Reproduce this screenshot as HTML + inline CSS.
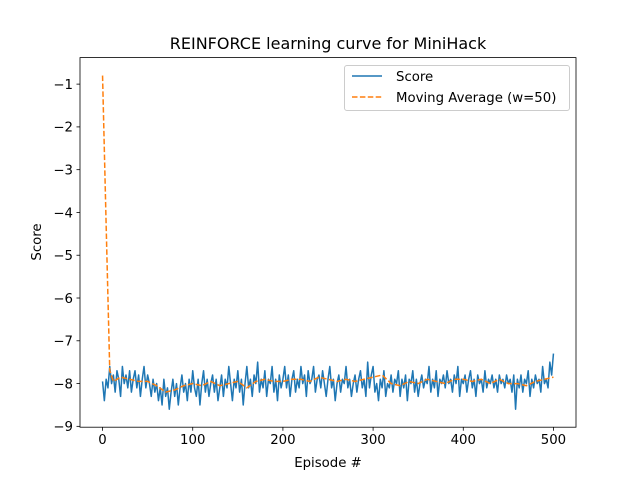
<!DOCTYPE html>
<html><head><meta charset="utf-8"><style>
body{margin:0;background:#fff}
svg{font-family:"DejaVu Sans","Liberation Sans",sans-serif}
</style></head><body>
<svg id="chart" width="640" height="480" viewBox="0 0 640 480">
<rect width="640" height="480" fill="#fff"/>
<g id="plot"></g>
</svg>
<script>
const xTicks=[0,100,200,300,400,500];
const yTicks=[-1,-2,-3,-4,-5,-6,-7,-8,-9];
const scoreStep=2;
const scoreValues=[-7.95,-8.4,-7.9,-8.1,-7.6,-8.0,-7.8,-8.2,-7.7,-7.9,-8.3,-7.6,-8.0,-7.8,-8.1,-7.7,-8.2,-7.9,-7.7,-8.1,
-7.8,-8.3,-7.9,-7.6,-8.1,-7.8,-8.0,-8.3,-7.9,-8.2,-8.0,-8.4,-8.1,-8.5,-7.9,-8.3,-8.1,-8.6,-8.2,-7.9,
-8.3,-8.0,-8.5,-8.1,-7.8,-8.2,-8.0,-8.4,-7.9,-8.2,-7.7,-8.1,-8.3,-7.9,-8.5,-8.0,-7.7,-8.2,-7.9,-8.3,
-8.0,-7.8,-8.2,-7.9,-8.4,-8.1,-7.8,-8.3,-7.9,-8.1,-7.6,-8.0,-8.4,-7.9,-8.1,-7.7,-8.2,-7.9,-8.5,-8.0,
-7.6,-8.1,-7.9,-8.3,-7.8,-8.0,-7.5,-8.2,-7.9,-8.1,-7.7,-8.3,-7.9,-8.0,-7.6,-8.2,-7.9,-8.4,-7.8,-8.1,
-7.9,-7.6,-8.1,-7.8,-8.3,-7.9,-7.7,-8.2,-7.9,-8.1,-7.6,-8.0,-7.8,-8.3,-7.7,-8.0,-7.9,-7.6,-8.2,-7.9,
-7.8,-8.1,-7.7,-8.0,-8.3,-7.9,-7.6,-8.1,-7.9,-8.4,-8.0,-7.8,-8.2,-7.9,-8.0,-7.6,-8.1,-7.9,-8.3,-8.0,
-7.8,-8.2,-7.9,-7.7,-8.1,-7.9,-8.3,-7.5,-8.1,-7.8,-7.6,-8.2,-8.0,-8.4,-7.9,-8.1,-7.7,-8.3,-8.0,-8.1,
-7.8,-8.2,-7.9,-8.0,-7.7,-8.3,-7.9,-8.1,-7.8,-8.4,-7.9,-8.0,-7.7,-8.2,-7.9,-8.3,-8.0,-7.8,-8.1,-7.9,
-8.0,-7.6,-8.2,-7.9,-8.1,-7.7,-8.3,-7.9,-8.0,-7.8,-8.1,-7.7,-8.0,-7.9,-8.2,-7.8,-8.0,-7.6,-8.3,-7.9,
-8.0,-7.8,-8.2,-7.9,-7.7,-8.1,-7.9,-8.3,-7.8,-8.0,-7.9,-8.2,-7.7,-8.1,-7.9,-8.0,-7.8,-8.1,-7.9,-8.2,
-7.8,-8.0,-7.9,-8.1,-7.8,-8.0,-7.9,-8.2,-7.8,-8.6,-7.9,-8.1,-7.8,-8.2,-7.9,-8.0,-7.7,-8.3,-7.9,-8.1,
-7.8,-8.0,-7.9,-8.2,-7.6,-8.0,-7.9,-8.1,-7.5,-7.8,-7.3];
const maEpisodes=[0,4,8,12,20,30,40,50,60,70,80,90,100,110,120,130,140,150,160,170,180,190,200,210,220,230,240,250,260,270,280,290,300,310,320,330,340,350,360,370,380,390,400,410,420,430,440,450,460,470,480,490,500];
const maValues=[-0.8,-4.3,-7.7,-7.95,-7.85,-7.9,-7.95,-7.95,-8.05,-8.2,-8.15,-8.05,-8.0,-8.05,-7.95,-8.05,-8.0,-7.95,-8.1,-7.95,-7.9,-7.95,-7.95,-7.9,-7.9,-7.95,-7.85,-7.9,-7.95,-7.9,-7.95,-7.9,-7.85,-7.8,-8.0,-8.05,-7.95,-8.0,-7.9,-7.95,-8.0,-7.9,-7.9,-7.95,-7.9,-8.0,-7.9,-8.0,-8.0,-8.05,-7.95,-7.9,-7.85];

const L=80,R=576,T=57.6,B=427.2;
const xMin=-25,xMax=525,yMin=-9.02,yMax=-0.38;
const xs=v=>L+(v-xMin)/(xMax-xMin)*(R-L);
const ys=v=>B-(v-yMin)/(yMax-yMin)*(B-T);
const NS="http://www.w3.org/2000/svg";
const g=document.getElementById('plot');
function mk(tag,attrs,parent){const e=document.createElementNS(NS,tag);for(const k in attrs)e.setAttribute(k,attrs[k]);(parent||g).appendChild(e);return e;}

let d=scoreValues.map((v,i)=>(i?'L':'M')+xs(i*scoreStep).toFixed(2)+','+ys(v).toFixed(2)).join('');
const sl=mk('path',{d:d,fill:'none',stroke:'#1f77b4','stroke-width':1.5,'stroke-linejoin':'round'});


d=maValues.map((v,i)=>(i?'L':'M')+xs(maEpisodes[i]).toFixed(2)+','+ys(v).toFixed(2)).join('');
const ml=mk('path',{d:d,fill:'none',stroke:'#ff7f0e','stroke-width':1.5,'stroke-dasharray':'5.5,2.4'});



const fr=mk('rect',{x:L,y:T,width:R-L,height:B-T,fill:'none',stroke:'#000','stroke-width':0.8});



xTicks.forEach(t=>{const x=xs(t);
 const tk=mk('line',{x1:x,x2:x,y1:B,y2:B+3.5,stroke:'#000','stroke-width':0.8});
 
 
 const tx=mk('text',{x:x,y:B+17,'text-anchor':'middle','font-size':'13.3px'});tx.textContent=t;
 
 
});
yTicks.forEach(t=>{const y=ys(t);
 const tk=mk('line',{x1:L-3.5,x2:L,y1:y,y2:y,stroke:'#000','stroke-width':0.8});
 
 
 const tx=mk('text',{x:L-7,y:y+4.8,'text-anchor':'end','font-size':'13.3px'});tx.textContent='\u2212'+Math.abs(t);
 
 
});

const tt=mk('text',{x:328,y:49,'text-anchor':'middle','font-size':'16px'});tt.textContent='REINFORCE learning curve for MiniHack';


const xl=mk('text',{x:328,y:467,'text-anchor':'middle','font-size':'13.3px'});xl.textContent='Episode #';


const yl=mk('text',{x:0,y:0,'text-anchor':'middle','font-size':'13.3px',transform:'translate(41,242) rotate(-90)'});yl.textContent='Score';



const lg=mk('g',{});


mk('rect',{x:344.5,y:65.5,width:225,height:45,rx:2.5,fill:'#fff','fill-opacity':0.8,stroke:'#ccc','stroke-width':1},lg);
const e1=mk('g',{},lg);


mk('line',{x1:352,x2:382,y1:76,y2:76,stroke:'#1f77b4','stroke-width':1.5},e1);
const t1=mk('text',{x:396,y:81,'font-size':'13.3px'},e1);t1.textContent='Score';
const e2=mk('g',{},lg);


mk('line',{x1:352,x2:382,y1:97,y2:97,stroke:'#ff7f0e','stroke-width':1.5,'stroke-dasharray':'5.5,2.4'},e2);
const t2=mk('text',{x:396,y:102,'font-size':'13.3px'},e2);t2.textContent='Moving Average (w=50)';
</script>
</body></html>
